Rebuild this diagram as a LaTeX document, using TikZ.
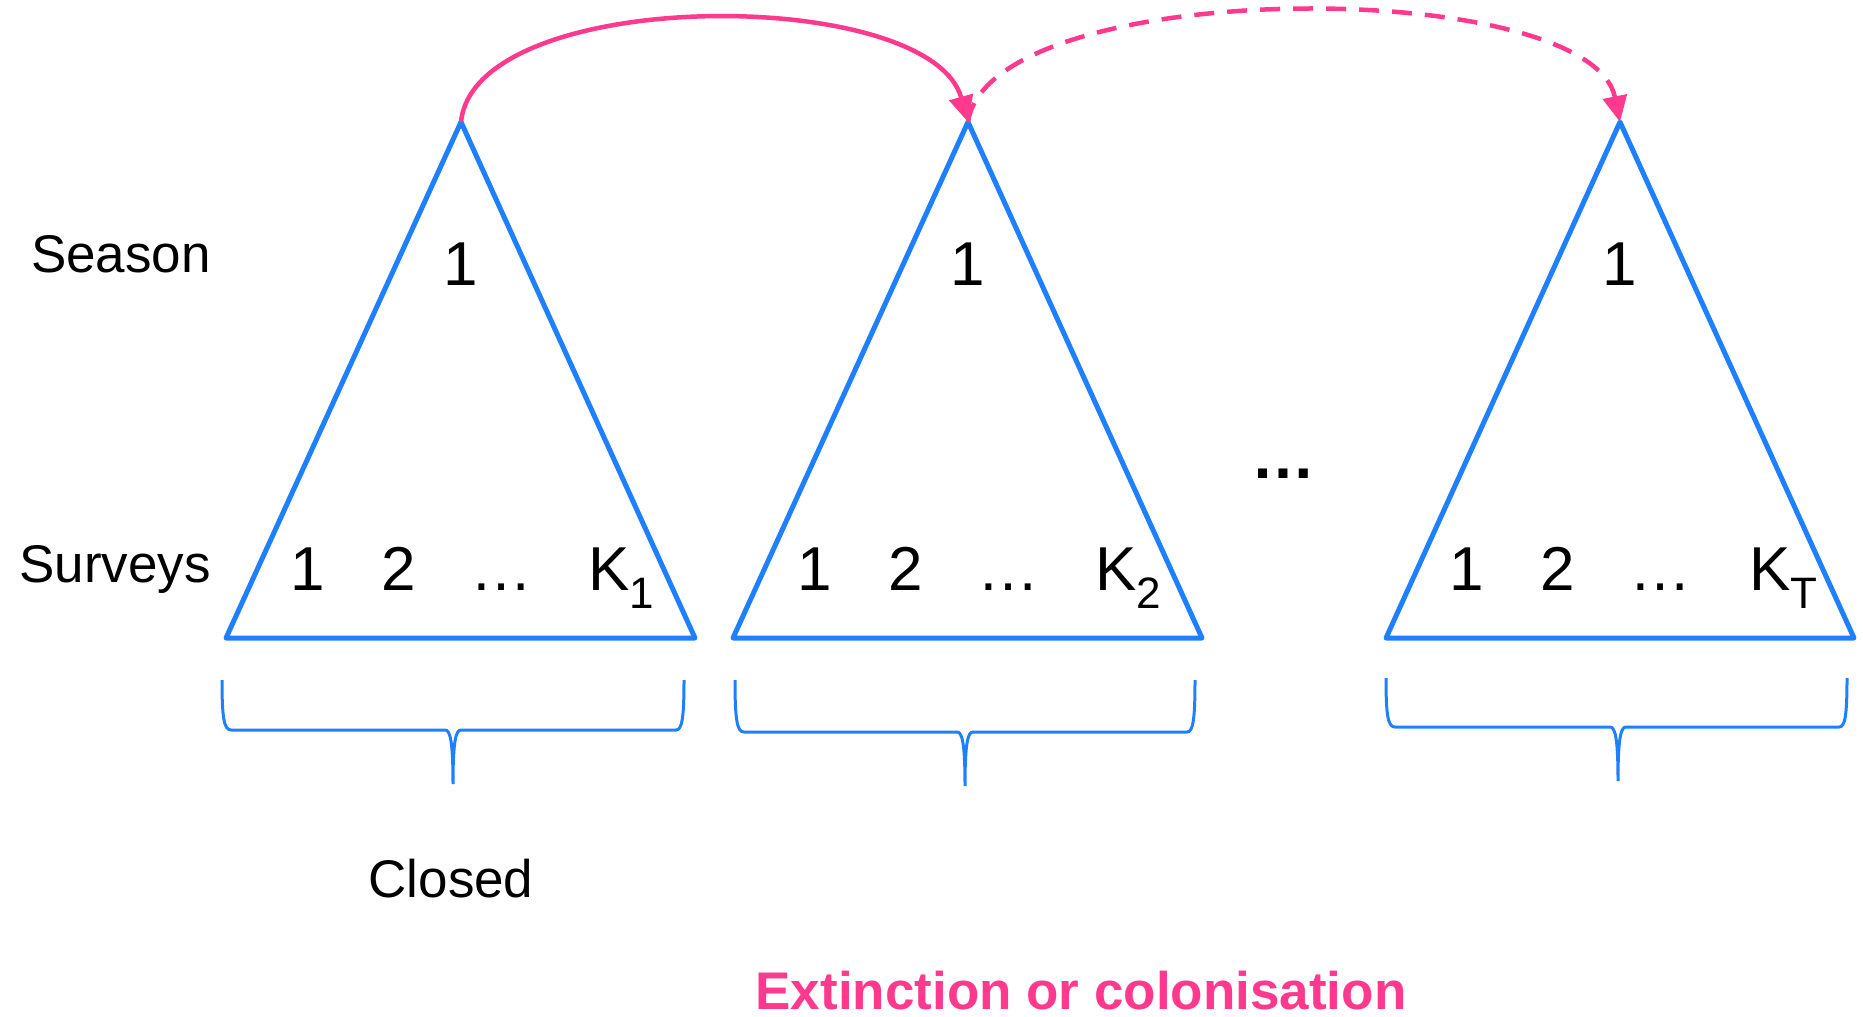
\documentclass[tikz,border=0pt]{standalone}
\usepackage{fontspec}
\setmainfont{Liberation Sans}
\usetikzlibrary{arrows.meta}
\definecolor{pinkc}{RGB}{255,58,142}
\definecolor{bluec}{RGB}{30,128,255}
\newcommand{\fsA}{\fontsize{53}{60}\selectfont}
\newcommand{\fsB}{\fontsize{62}{70}\selectfont}
\newcommand{\fsS}{\fontsize{44}{50}\selectfont}
\newcommand{\fsD}{\fontsize{64}{70}\selectfont}
\newcommand{\subK}[1]{K\raisebox{-18pt}{\fsS #1}}
\begin{document}
\begin{tikzpicture}[x=1pt,y=-1pt,
  tri/.style={draw=bluec,line width=5pt,line join=round},
  brc/.style={draw=bluec,line width=3pt},
  arc/.style={draw=pinkc,line width=4.5pt,-{Triangle[length=26pt,width=24pt]}},
  lbl/.style={inner sep=0pt,anchor=base,font=\fsA},
  num/.style={inner sep=0pt,anchor=base,font=\fsB},
  knum/.style={inner sep=0pt,anchor=base west,font=\fsB}]
\useasboundingbox (0,0) rectangle (1863,1017);
% apexes
\coordinate (A1) at (461,122);
\coordinate (A2) at (968,122);
\coordinate (A3) at (1620,122);
% triangles
\draw[tri] (A1) -- (695,638) -- (226,638) -- cycle;
\draw[tri] (A2) -- (1202,638) -- (733,638) -- cycle;
\draw[tri] (A3) -- (1854,638) -- (1386,638) -- cycle;
% row labels
\node[lbl,anchor=base east] (season) at (211,272) {Season};
\node[lbl,anchor=base east] (surveys) at (211,582) {Surveys};
% season numbers
\node[num] (s1) at (461,285) {1};
\node[num] (s2) at (968,285) {1};
\node[num] (s3) at (1620,285) {1};
% survey numbers
\node[num] (a1) at (308,590) {1};
\node[num] (a2) at (399,590) {2};
\node[num] (a3) at (501,590) {…};
\node[knum] (a4) at (588,590) {\subK{1}};
\node[num] (b1) at (815,590) {1};
\node[num] (b2) at (906,590) {2};
\node[num] (b3) at (1008,590) {…};
\node[knum] (b4) at (1095,590) {\subK{2}};
\node[num] (c1) at (1467,590) {1};
\node[num] (c2) at (1558,590) {2};
\node[num] (c3) at (1660,590) {…};
\node[knum] (c4) at (1749,590) {\subK{T}};
% middle dots
\node[lbl,font=\fsD\bfseries] (dots) at (1283,478) {…};
% braces
\draw[brc] (222,680) .. controls (222,718) and (224,730) .. (231,730) -- (445,730)
  .. controls (450,730) and (453,740) .. (453,784)
  .. controls (453,740) and (456,730) .. (461,730) -- (676,730)
  .. controls (682,730) and (684,718) .. (684,680);
\draw[brc] (735,680) .. controls (735,720) and (737,732) .. (744,732) -- (957,732)
  .. controls (962,732) and (965,742) .. (965,786)
  .. controls (965,742) and (968,732) .. (973,732) -- (1187,732)
  .. controls (1193,732) and (1195,720) .. (1195,680);
\draw[brc] (1386,678) .. controls (1386,716) and (1388,727) .. (1395,727) -- (1610,727)
  .. controls (1615,727) and (1618,737) .. (1618,781)
  .. controls (1618,737) and (1621,727) .. (1626,727) -- (1839,727)
  .. controls (1845,727) and (1847,716) .. (1847,678);
\node[lbl] (closed) at (451,897) {Closed};
% arcs
\draw[arc] (A1) .. controls (475,-15) and (930,-15) .. (A2);
\draw[arc,dash pattern=on 20pt off 13pt] (A2) .. controls (990,-25) and (1590,-25) .. (A3);
\node[lbl,font=\fsA\bfseries,text=pinkc,text depth=0pt] (ext) at (1081,1009) {Extinction or colonisation};
\end{tikzpicture}
\end{document}
